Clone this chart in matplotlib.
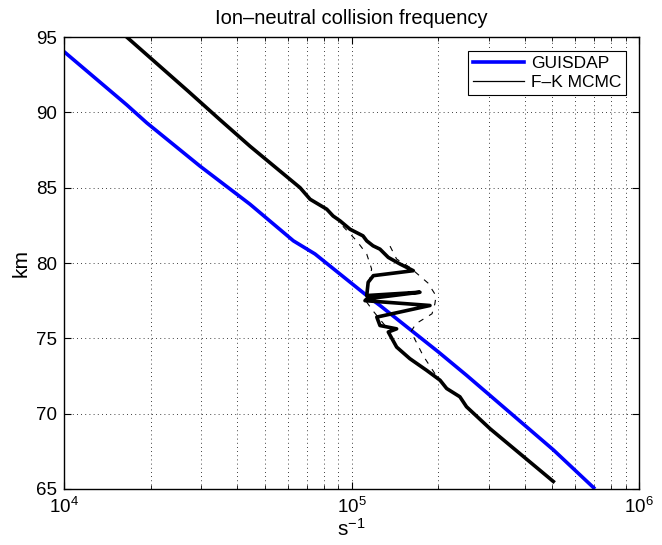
import numpy as np
import matplotlib
matplotlib.use("Agg")
import matplotlib.pyplot as plt
from matplotlib.ticker import LogLocator, NullFormatter, FixedLocator
from matplotlib.lines import Line2D

plt.rcParams['font.family'] = ['Liberation Sans', 'DejaVu Sans']
plt.rcParams['mathtext.fontset'] = 'custom'
plt.rcParams['mathtext.rm'] = 'Liberation Sans'
plt.rcParams['mathtext.it'] = 'Liberation Sans'

# GUISDAP model (log10 frequency, altitude km)
guisdap_log = [4.0, 4.218, 4.288, 4.473, 4.647, 4.798, 4.873, 5.053, 5.099, 5.302, 5.40, 5.702, 5.847]
guisdap_km = [94.03, 90.5, 89.3, 86.43, 83.9, 81.47, 80.6, 77.84, 77.18, 74.1, 72.55, 67.6, 65.0]

# F-K MCMC estimate (thick)
fk_log = [4.218, 4.432, 4.543, 4.647, 4.821, 4.856, 4.914, 4.936, 4.96, 4.995, 5.04, 5.053,
          5.075, 5.099, 5.128, 5.169, 5.215, 5.076, 5.058, 5.053, 5.238, 5.053, 5.047,
          5.273, 5.088, 5.099, 5.157, 5.128, 5.157, 5.203, 5.261, 5.308, 5.331, 5.377,
          5.40, 5.482, 5.702]
fk_km = [95.0, 91.4, 89.5, 87.75, 85.0, 84.23, 83.57, 83.12, 82.8, 82.24, 81.8, 81.47,
         81.14, 80.92, 80.37, 79.93, 79.49, 79.16, 78.72, 77.84, 78.06, 77.62, 77.5,
         77.18, 76.41, 75.85, 75.63, 75.42, 74.42, 73.65, 72.88, 72.22, 71.67, 71.12,
         70.46, 69.0, 65.5]

# uncertainty bounds (thin dashed)
lo_log = [4.970, 5.018, 5.053, 5.070, 5.058, 5.053, 5.075, 5.134]
lo_km = [82.44, 81.47, 80.59, 79.60, 78.50, 77.40, 76.82, 75.44]
hi_log = [5.134, 5.157, 5.203, 5.266, 5.294, 5.290, 5.280, 5.224, 5.207, 5.249, 5.290, 5.318]
hi_km = [81.12, 80.26, 79.71, 78.67, 77.82, 77.29, 76.63, 75.97, 75.44, 73.85, 72.66, 72.0]

fig = plt.figure(figsize=(6.62, 5.45), dpi=100)
ax = fig.add_axes([64/662, 1-489/545, (639-64)/662, (489-37)/545])

ax.plot(10**np.array(guisdap_log), guisdap_km, color='#0000ff', lw=2.6, solid_capstyle='butt')
ax.plot(10**np.array(fk_log), fk_km, color='black', lw=2.6, solid_joinstyle='round')
ax.plot(10**np.array(lo_log), lo_km, color='black', lw=0.8, ls=(0, (5, 6)))
ax.plot(10**np.array(hi_log), hi_km, color='black', lw=0.8, ls=(0, (5, 6)))

ax.set_xscale('log')
ax.set_xlim(1e4, 1e6)
ax.set_ylim(65, 95)
ax.yaxis.set_major_locator(FixedLocator([65, 70, 75, 80, 85, 90, 95]))
ax.xaxis.set_minor_locator(LogLocator(base=10, subs=np.arange(2, 10)))
ax.xaxis.set_minor_formatter(NullFormatter())

ax.grid(True, which='major', color='black', ls=(0, (1, 4)), lw=0.6)
ax.grid(True, which='minor', axis='x', color='black', ls=(0, (1, 4)), lw=0.6)
ax.tick_params(which='both', direction='in', top=True, right=True, labelsize=13.5)
ax.tick_params(which='major', length=5)
ax.tick_params(which='minor', length=3)
ax.tick_params(axis='x', which='major', pad=6)
ax.tick_params(axis='y', which='major', pad=5)
for s in ax.spines.values():
    s.set_linewidth(1.0)

ax.set_title('Ion\u2013neutral collision frequency', fontsize=14.5, pad=9)
ax.set_ylabel('km', fontsize=15, labelpad=4)
ax.set_xlabel('s$^{-1}$', fontsize=15, labelpad=0)

handles = [Line2D([], [], color='#0000ff', lw=2.6), Line2D([], [], color='black', lw=0.9)]
leg = ax.legend(handles, ['GUISDAP', 'F\u2013K MCMC'], loc='upper right', fontsize=12.5,
                fancybox=False, framealpha=1, edgecolor='black', borderpad=0.3,
                handlelength=2.9, handletextpad=0.4, labelspacing=0.2,
                bbox_to_anchor=(0.993, 0.988))
leg.get_frame().set_linewidth(0.8)

fig.savefig('out.png', dpi=100)
